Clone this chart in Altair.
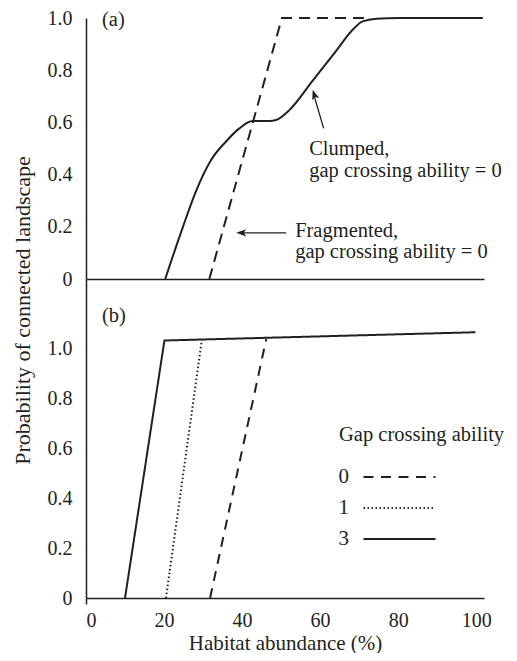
import altair as alt
import pandas as pd

# ---------------- data ----------------
# Panel (a)
frag_x = [31.6, 50.2, 71.4]
frag_y = [0.0, 1.0, 1.0]
clump_x = [20.3, 24.8, 28.2, 32.1, 35.9, 39.3, 42.7, 47.0, 48.7, 52.1, 58.1, 64.1, 68.4, 70.9, 74.4, 80.3, 101.7]
clump_y = [0.0, 0.198, 0.337, 0.457, 0.527, 0.577, 0.605, 0.605, 0.609, 0.647, 0.760, 0.874, 0.956, 0.987, 0.997, 1.0, 1.0]

# Panel (b)
gap_levels = ["0", "1", "3"]
gap0_x = [31.8, 46.2]
gap0_y = [0.0, 1.036]
gap1_x = [20.5, 29.7]
gap1_y = [0.0, 1.034]
gap3_x = [10.0, 20.1, 99.8]
gap3_y = [0.0, 1.03, 1.063]

x_ticks = [0, 20, 40, 60, 80, 100]
y_ticks = [0, 0.2, 0.4, 0.6, 0.8, 1.0]

clump_label = ["Clumped,", "gap crossing ability = 0"]
frag_label = ["Fragmented,", "gap crossing ability = 0"]

# ---------------- style ----------------
FONT = "Liberation Serif"
INK = "#231f20"
ARROW = "M0,0 L0.6,1.6 L0,1.25 L-0.6,1.6 Z"
LEGEND_SYMBOL = "M-4,0H4"
y_label_expr = "datum.value == 0 ? '0' : format(datum.value, '.1f')"

xscale = alt.Scale(domain=[0, 102], nice=False, zero=False)
one = pd.DataFrame({"k": [0]})

# ---------------- panel (a) ----------------
top_x_axis = alt.Axis(labels=False, ticks=False, title=None, domainColor=INK,
                      domainWidth=1.5, grid=False)
top_y_axis = alt.Axis(values=y_ticks, labelExpr=y_label_expr, ticks=False,
                      labelPadding=14, title=None, domainColor=INK, domainWidth=1.5,
                      grid=False, labelFont=FONT, labelFontSize=20, labelColor=INK)

df_frag = pd.DataFrame({"x": frag_x, "y": frag_y})
df_clump = pd.DataFrame({"x": clump_x, "y": clump_y})

frag = alt.Chart(df_frag).mark_line(color=INK, strokeWidth=2, strokeDash=[11, 7]).encode(
    x=alt.X("x:Q", scale=xscale, axis=top_x_axis),
    y=alt.Y("y:Q", scale=alt.Scale(domain=[0, 1], nice=False), axis=top_y_axis),
)
clump = alt.Chart(df_clump).mark_line(color=INK, strokeWidth=2, interpolate="monotone").encode(
    x="x:Q", y="y:Q"
)

txt_style = dict(font=FONT, fontSize=20.5, color=INK, align="left", baseline="alphabetic")

label_a = alt.Chart(one).mark_text(text="(a)", **txt_style).encode(
    x=alt.datum(4.1), y=alt.datum(0.970))
clump_txt = alt.Chart(one).mark_text(text=clump_label, lineHeight=22, **txt_style).encode(
    x=alt.datum(57.2), y=alt.datum(0.475))
frag_txt = alt.Chart(one).mark_text(text=frag_label, lineHeight=21, **txt_style).encode(
    x=alt.datum(53.6), y=alt.datum(0.161))

frag_shaft = alt.Chart(one).mark_rule(color=INK, strokeWidth=1.3).encode(
    x=alt.datum(51.3), x2=alt.datum(40.0), y=alt.datum(0.177), y2=alt.datum(0.177))
frag_head = alt.Chart(one).mark_point(shape=ARROW, size=150, filled=True, color=INK,
                                      opacity=1, angle=270, strokeWidth=0).encode(
    x=alt.datum(38.5), y=alt.datum(0.177))
clump_shaft = alt.Chart(one).mark_rule(color=INK, strokeWidth=1.3).encode(
    x=alt.datum(60.9), x2=alt.datum(58.5), y=alt.datum(0.577), y2=alt.datum(0.700))
clump_head = alt.Chart(one).mark_point(shape=ARROW, size=150, filled=True, color=INK,
                                       opacity=1, angle=342, strokeWidth=0).encode(
    x=alt.datum(58.1), y=alt.datum(0.725))

top = alt.layer(frag, clump, label_a, clump_txt, frag_txt,
                frag_shaft, frag_head, clump_shaft, clump_head).properties(width=398, height=261)

# ---------------- panel (b) ----------------
rows = []
for lvl, xs, ys in zip(gap_levels, [gap0_x, gap1_x, gap3_x], [gap0_y, gap1_y, gap3_y]):
    for xv, yv in zip(xs, ys):
        rows.append({"gap": lvl, "x": xv, "y": yv})
df_b = pd.DataFrame(rows)

bot_x_axis = alt.Axis(
    values=x_ticks, format="d", tickSize=6, tickWidth=1.5,
    tickColor={"condition": {"test": "datum.value === 0", "value": INK}, "value": "transparent"},
    labelPadding=6, labelFont=FONT, labelFontSize=20, labelColor=INK,
    domainColor=INK, domainWidth=1.5, grid=False,
    title="Habitat abundance (%)", titleFont=FONT, titleFontSize=21,
    titleFontWeight="normal", titleColor=INK, titlePadding=2,
)
bot_y_axis = alt.Axis(
    values=y_ticks, labelExpr=y_label_expr, ticks=False, labelPadding=14,
    labelFont=FONT, labelFontSize=20, labelColor=INK,
    domainColor=INK, domainWidth=1.5, grid=False,
    title="Probability of connected landscape", titleFont=FONT, titleFontSize=22,
    titleFontWeight="normal", titleColor=INK, titleAngle=270, titleAlign="center",
    titleBaseline="alphabetic", titleX=-57, titleY=31,
)

legend = alt.Legend(
    title="Gap crossing ability", orient="none", legendX=253, legendY=407,
    symbolType=LEGEND_SYMBOL, symbolSize=324, symbolStrokeWidth=2,
    symbolStrokeColor=INK, symbolOffset=50,
    labelAlign="right", labelOffset=alt.ExprRef("-61"), labelFont=FONT, labelFontSize=21,
    labelColor=INK, titleFont=FONT, titleFontSize=20.5, titleFontWeight="normal",
    titleColor=INK, titlePadding=21, rowPadding=9, padding=0, titleLimit=0,
)

lines_b = alt.Chart(df_b).mark_line(color=INK, strokeWidth=2).encode(
    x=alt.X("x:Q", scale=xscale, axis=bot_x_axis),
    y=alt.Y("y:Q", scale=alt.Scale(domain=[0, 1.276], nice=False), axis=bot_y_axis),
    strokeDash=alt.StrokeDash(
        "gap:N",
        scale=alt.Scale(domain=gap_levels, range=[[10, 7.5], [1.5, 2.5], [1, 0]]),
        legend=legend,
    ),
)
label_b = alt.Chart(one).mark_text(text="(b)", **txt_style).encode(
    x=alt.datum(4.1), y=alt.datum(1.105))

bottom = alt.layer(lines_b, label_b).properties(width=398, height=319)

chart = alt.vconcat(top, bottom, spacing=0, bounds="flush").properties(
    padding={"left": 2, "top": 0, "right": 0, "bottom": 0}
).configure_view(stroke=None).configure_axis(grid=False)

chart.save("out.html", embed_options={"renderer": "svg", "actions": False})
